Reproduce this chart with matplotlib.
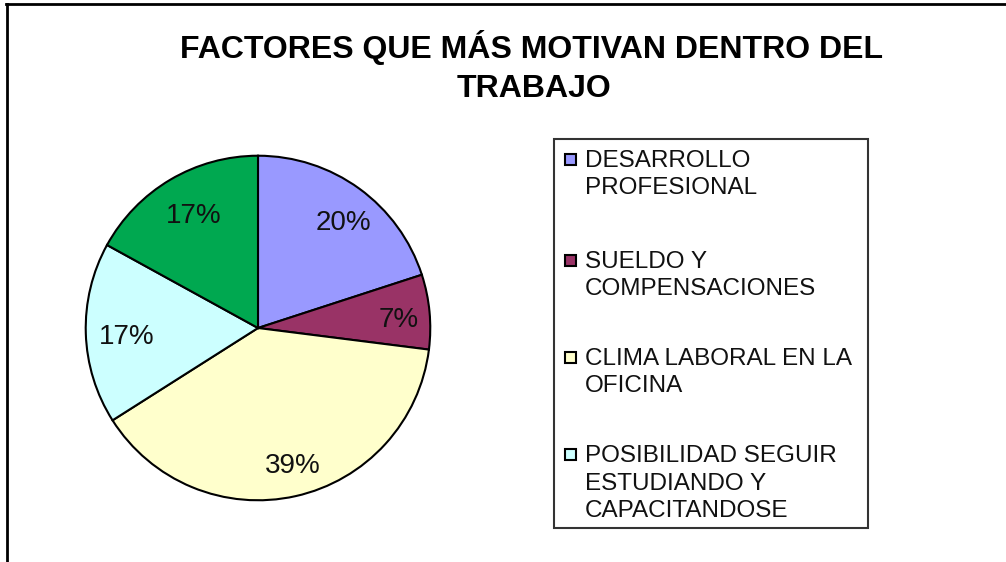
import matplotlib.pyplot as plt
from matplotlib.patches import Rectangle
from matplotlib.lines import Line2D

plt.rcParams['font.family'] = ['Liberation Sans', 'DejaVu Sans']

values = [20, 7, 39, 17, 17]
colors = ['#9999FF', '#993366', '#FFFFCC', '#CCFFFF', '#00A850']
# only the first four entries are visible in the legend box
legend_labels = [
    ["DESARROLLO", "PROFESIONAL"],
    ["SUELDO Y", "COMPENSACIONES"],
    ["CLIMA LABORAL EN LA", "OFICINA"],
    ["POSIBILIDAD SEGUIR", "ESTUDIANDO Y", "CAPACITANDOSE"],
]

W, H = 1006, 562
fig = plt.figure(figsize=(W / 100, H / 100), dpi=100)

def fx(px):
    return px / W

def fy(py):
    return 1 - py / H

# outer frame (top and left only)
fig.add_artist(Line2D([fx(6), 1], [fy(4), fy(4)], color='black', lw=2))
fig.add_artist(Line2D([fx(7), fx(7)], [fy(4), 0], color='black', lw=2))

# title
fig.text(fx(531), fy(58), "FACTORES QUE MÁS MOTIVAN DENTRO DEL", ha='center',
         va='baseline', fontsize=23, fontweight='bold')
fig.text(fx(534), fy(97), "TRABAJO", ha='center', va='baseline',
         fontsize=23, fontweight='bold')

# pie
cx, cy, r = 258, 328, 174
ax = fig.add_axes([fx(cx - r), fy(cy + r), 2 * r / W, 2 * r / H])
wedges, texts, autotexts = ax.pie(
    values, colors=colors, startangle=90, counterclock=False,
    autopct='%.0f%%', pctdistance=0.79,
    wedgeprops=dict(edgecolor='black', linewidth=1.5),
    textprops=dict(fontsize=20, color='#111111'))
for t in autotexts:
    x, y = t.get_position()
    t.set_position((x + 0.03, y - 0.03))
ax.set_xlim(-1.01, 1.01)
ax.set_ylim(-1.01, 1.01)
ax.set_aspect('auto')
ax.axis('off')

# legend box
lx0, ly0, lx1, ly1 = 554, 139, 868, 528
fig.add_artist(Rectangle((fx(lx0), fy(ly1)), fx(lx1) - fx(lx0), fy(ly0) - fy(ly1),
                         fill=False, edgecolor='#333333', lw=1.5))
baselines = [167, 268, 365, 462]
line_h = 27.5
for lines, col, b in zip(legend_labels, colors, baselines):
    fig.add_artist(Rectangle((fx(565), fy(b - 2)), 11 / W, 11 / H,
                             facecolor=col, edgecolor='black', lw=1.5))
    for i, t in enumerate(lines):
        fig.text(fx(585), fy(b + i * line_h), t, ha='left', va='baseline',
                 fontsize=17.5, color='#111111')

fig.savefig("out.png", dpi=100)
